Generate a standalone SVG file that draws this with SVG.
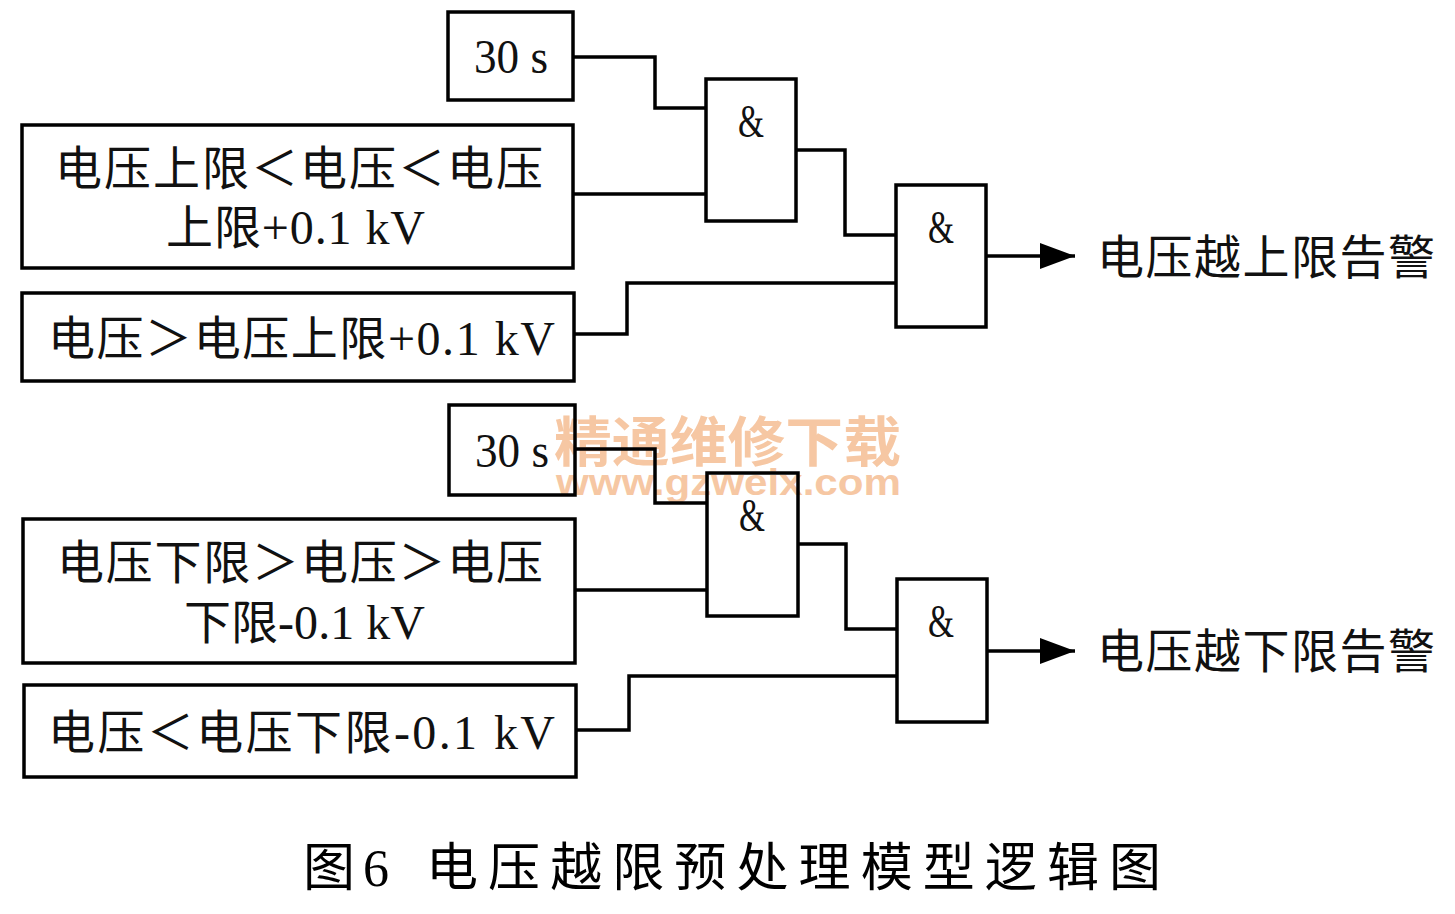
<svg xmlns="http://www.w3.org/2000/svg" width="1455" height="914" viewBox="0 0 1455 914">
<style>
.box{fill:none;stroke:#000;stroke-width:3.5}
.wire{fill:none;stroke:#000;stroke-width:3.5}
.cjk{font-family:"Noto Sans CJK SC","Liberation Serif",serif;font-size:47px;fill:#111}
.lat{font-family:"Liberation Serif",serif;font-size:48px;fill:#111}
.amp{font-family:"Liberation Serif",serif;font-size:46px;fill:#111}
.wm{font-family:"Noto Sans CJK SC",sans-serif;font-weight:bold;fill:#f6c7a3}
.wm2{font-family:"Liberation Sans",sans-serif;font-weight:bold;fill:#f6c7a3}
</style>
<defs>
<marker id="arr" markerUnits="userSpaceOnUse" markerWidth="36" markerHeight="28" refX="35" refY="14" orient="auto">
<path d="M0,1 L35,14 L0,27 Z" fill="#000"/>
</marker>
</defs>
<rect width="1455" height="914" fill="#fff"/>
<g id="watermark">
<text class="wm" x="554" y="462" font-size="54" textLength="347" lengthAdjust="spacingAndGlyphs">精通维修下载</text>
<text class="wm2" x="556" y="495" font-size="36" textLength="345" lengthAdjust="spacingAndGlyphs">www.gzweix.com</text>
</g>
<g id="connectors">
<path class="wire" d="M573,57 H655 V108 H706"/>
<path class="wire" d="M573,194 H706"/>
<path class="wire" d="M796,150 H845 V235 H896"/>
<path class="wire" d="M574,334 H627 V283 H896"/>
<path class="wire" d="M986,256 H1075" marker-end="url(#arr)"/>
<path class="wire" d="M575,449 H655 V503 H707"/>
<path class="wire" d="M575,590 H707"/>
<path class="wire" d="M798,544 H846 V629 H897"/>
<path class="wire" d="M576,730 H629 V676 H897"/>
<path class="wire" d="M987,651 H1075" marker-end="url(#arr)"/>
</g>
<g id="in1"><rect class="box" x="448" y="12" width="125" height="88"/>
<text class="lat" x="474" y="73" textLength="74" lengthAdjust="spacingAndGlyphs">30 s</text></g>
<g id="in2"><rect class="box" x="22" y="125" width="551" height="143"/>
<text class="cjk" x="55" y="185" textLength="488" lengthAdjust="spacing">电压上限＜电压＜电压</text>
<text x="166" y="244" textLength="259" lengthAdjust="spacing"><tspan class="cjk">上限</tspan><tspan class="lat">+0.1 kV</tspan></text></g>
<g id="in3"><rect class="box" x="22" y="293" width="552" height="88"/>
<text x="48" y="355" textLength="507" lengthAdjust="spacing"><tspan class="cjk">电压＞电压上限</tspan><tspan class="lat">+0.1 kV</tspan></text></g>
<g id="g1"><rect class="box" x="706" y="79" width="90" height="142"/>
<text class="amp" x="738" y="137" textLength="26" lengthAdjust="spacingAndGlyphs">&amp;</text></g>
<g id="g2"><rect class="box" x="896" y="185" width="90" height="142"/>
<text class="amp" x="928" y="243" textLength="26" lengthAdjust="spacingAndGlyphs">&amp;</text></g>
<g id="out1"><text class="cjk" x="1097" y="274" textLength="338" lengthAdjust="spacing">电压越上限告警</text></g>
<g id="in4"><rect class="box" x="449" y="405" width="126" height="90"/>
<text class="lat" x="475" y="467" textLength="74" lengthAdjust="spacingAndGlyphs">30 s</text></g>
<g id="in5"><rect class="box" x="23" y="519" width="552" height="144"/>
<text class="cjk" x="57" y="579" textLength="486" lengthAdjust="spacing">电压下限＞电压＞电压</text>
<text x="184" y="639" textLength="241" lengthAdjust="spacing"><tspan class="cjk">下限</tspan><tspan class="lat">-0.1 kV</tspan></text></g>
<g id="in6"><rect class="box" x="24" y="685" width="552" height="92"/>
<text x="48" y="749" textLength="507" lengthAdjust="spacing"><tspan class="cjk">电压＜电压下限</tspan><tspan class="lat">-0.1 kV</tspan></text></g>
<g id="g3"><rect class="box" x="707" y="473" width="91" height="143"/>
<text class="amp" x="739" y="531" textLength="26" lengthAdjust="spacingAndGlyphs">&amp;</text></g>
<g id="g4"><rect class="box" x="897" y="579" width="90" height="143"/>
<text class="amp" x="928" y="637" textLength="26" lengthAdjust="spacingAndGlyphs">&amp;</text></g>
<g id="out2"><text class="cjk" x="1097" y="668" textLength="338" lengthAdjust="spacing">电压越下限告警</text></g>
<g id="caption">
<text x="303" y="886" font-size="52" textLength="86" lengthAdjust="spacing"><tspan font-family="Noto Sans CJK SC, sans-serif">图</tspan><tspan font-family="Liberation Serif, serif">6</tspan></text>
<text x="426" y="886" font-family="Noto Sans CJK SC, sans-serif" font-size="52" textLength="735" lengthAdjust="spacing">电压越限预处理模型逻辑图</text>
</g>
</svg>
